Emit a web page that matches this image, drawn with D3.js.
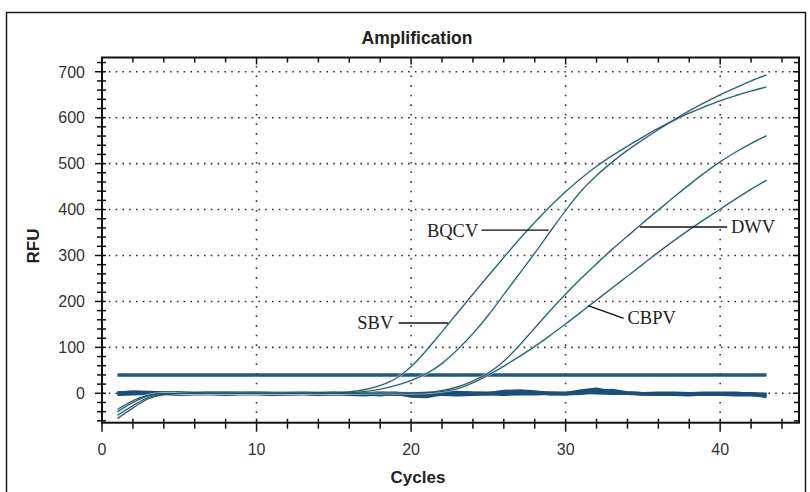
<!DOCTYPE html>
<html><head><meta charset="utf-8">
<script src="https://cdn.jsdelivr.net/npm/d3@7"></script>
<style>
html,body{margin:0;padding:0;background:#fff;}
svg{display:block;}
</style></head>
<body>
<svg id="chart" width="810" height="492"></svg>
<script>
// ---------- data ----------
const cycles = d3.range(1, 44); // cycles 1..43
const xTicks = [0, 10, 20, 30, 40];
const yTicks = [0, 100, 200, 300, 400, 500, 600, 700];
const threshold = 40;

const SBV = [-40,-20,-6,-1,0,0,1,0,0,0,1,0,0,1,1,3,8,17,32,58,94,134,175,216,256,296,335,372,407,439,468,494,517,538,558,577,594,610,624,637,648,658,667];
const BQCV = [-48,-27,-9,-2,0,1,0,0,1,0,0,0,1,0,0,1,4,9,17,28,43,65,95,130,170,215,260,305,352,398,440,474,503,529,552,574,595,615,633,650,665,680,693];
const DWV = [-55,-32,-12,-3,-1,0,0,1,0,0,0,1,0,0,0,0,1,0,1,1,2,6,14,27,44,70,104,142,180,216,250,282,313,342,371,399,427,454,480,504,525,544,561];
const CBPV = [-35,-16,-4,0,0,1,0,0,0,1,0,0,0,1,0,0,0,1,0,0,1,4,10,23,40,59,80,102,126,151,177,203,229,255,281,307,332,356,379,401,423,444,464];

const negA = [0,3,2,1,0,0,1,0,0,1,0,-1,0,0,1,0,0,1,0,-6,-7,-1,1,0,0,1,2,1,0,0,2,1,0,0,-1,0,0,-1,0,0,0,-2,-7];
const negB = [-2,-1,0,-1,-2,-1,-1,-2,-1,-1,-2,-1,-1,-2,-1,-2,-3,-1,-2,-1,-2,-2,-3,-2,-1,4,5,3,-1,-1,0,4,6,1,-1,-2,-1,-2,-2,-2,-1,-1,-2];
const negC = [1,0,0,0,1,0,0,1,0,0,-1,0,0,-1,0,0,-1,-3,0,-2,-1,3,2,0,-1,-2,-1,-1,0,-1,5,9,3,0,-1,-2,-2,-3,-1,-2,-3,-3,-4];

const seriesNames = ["SBV", "BQCV", "DWV", "CBPV"];
const seriesValues = [SBV, BQCV, DWV, CBPV];
const negValues = [negA, negB, negC];

// annotation anchors in data units
const labelText = ["BQCV", "SBV", "DWV", "CBPV"];
const labelPos = [[24.35, 355], [18.85, 153], [40.7, 362], [34.0, 164]];
const labelAnchor = ["end", "end", "start", "start"];
const leaderFrom = [[24.55, 355], [19.2, 153], [34.8, 362], [31.46, 191]];
const leaderTo = [[28.9, 355], [22.4, 153], [40.45, 362], [33.75, 163]];

// ---------- layout ----------
const svg = d3.select("#chart");
const L = 102, R = 799, T = 57.5, B = 422.7;
const x = d3.scaleLinear().domain([0, 45.1]).range([L, R]);
const y = d3.scaleLinear().domain([-64, 731]).range([B, T]);

const sans = "'Liberation Sans', Arial, sans-serif";
const serif = "'Liberation Serif', 'Times New Roman', serif";

// outer frame
svg.append("rect").attr("x", 6.5).attr("y", 12.5).attr("width", 799).attr("height", 500)
  .attr("fill", "#fff").attr("stroke", "#1a1a1a").attr("stroke-width", 1.5);

// grid
const grid = svg.append("g");
grid.selectAll("line.v").data(xTicks.filter(d => d > 0)).join("line")
  .attr("x1", d => x(d)).attr("x2", d => x(d)).attr("y1", B).attr("y2", T)
  .attr("stroke", "#333").attr("stroke-width", 1.6).attr("stroke-dasharray", "1.6,8");
grid.selectAll("line.h").data(yTicks).join("line")
  .attr("x1", L).attr("x2", R).attr("y1", d => y(d)).attr("y2", d => y(d))
  .attr("stroke", "#333").attr("stroke-width", 1.6).attr("stroke-dasharray", "1.6,5.2");

// baseline (negative wells)
const line = d3.line().x((d, i) => x(cycles[i])).y(d => y(d));
svg.append("g").selectAll("path").data(negValues).join("path")
  .attr("d", line).attr("fill", "none").attr("stroke", "#1b4e78").attr("stroke-width", 3.4);

// threshold
svg.append("line").attr("x1", x(1)).attr("x2", x(43)).attr("y1", y(threshold)).attr("y2", y(threshold))
  .attr("stroke", "#1d5a86").attr("stroke-width", 3.5);

// amplification curves
const smooth = d3.line().x((d, i) => x(cycles[i])).y(d => y(d)).curve(d3.curveMonotoneX);
const curves = svg.append("g");
curves.selectAll("path.halo").data(seriesValues).join("path")
  .attr("d", smooth).attr("fill", "none").attr("stroke", "#c6e2ef").attr("stroke-width", 2.6).attr("opacity", 0.7);
curves.selectAll("path.main").data(seriesValues).join("path")
  .attr("d", smooth).attr("fill", "none").attr("stroke", "#28505d").attr("stroke-width", 1.1);

// axes frame
const ax = svg.append("g").attr("stroke", "#111").attr("fill", "none");
ax.append("rect").attr("x", L).attr("y", T).attr("width", R - L).attr("height", B - T).attr("stroke-width", 2);

const xMinor = d3.range(0, 46, 2);
const yMinor = d3.range(-60, 731, 20);
ax.selectAll("line.bx").data(xMinor).join("line")
  .attr("x1", d => x(d)).attr("x2", d => x(d)).attr("y1", B - 4)
  .attr("y2", d => B + (xTicks.includes(d) ? 9 : 6)).attr("stroke-width", 1.5);
ax.selectAll("line.tx").data(xMinor).join("line")
  .attr("x1", d => x(d)).attr("x2", d => x(d)).attr("y1", T)
  .attr("y2", d => T + (xTicks.includes(d) ? 7 : 5)).attr("stroke-width", 1.5);
ax.selectAll("line.ly").data(yMinor).join("line")
  .attr("y1", d => y(d)).attr("y2", d => y(d))
  .attr("x1", d => L - (yTicks.includes(d) ? 7 : 5)).attr("x2", L + 4).attr("stroke-width", 1.5);
ax.selectAll("line.ry").data(yMinor).join("line")
  .attr("y1", d => y(d)).attr("y2", d => y(d))
  .attr("x1", d => R - (yTicks.includes(d) ? 6 : 5)).attr("x2", R).attr("stroke-width", 1.5);

// tick labels
svg.append("g").selectAll("text").data(xTicks).join("text")
  .attr("x", d => x(d)).attr("y", 455).attr("text-anchor", "middle")
  .attr("font-family", sans).attr("font-size", 16).attr("fill", "#333").text(d => d);
svg.append("g").selectAll("text").data(yTicks).join("text")
  .attr("x", 85).attr("y", d => y(d)).attr("dy", "0.36em").attr("text-anchor", "end")
  .attr("font-family", sans).attr("font-size", 16).attr("fill", "#333").text(d => d);

// titles
svg.append("text").attr("x", 417).attr("y", 43.5).attr("text-anchor", "middle")
  .attr("font-family", sans).attr("font-weight", "bold").attr("font-size", 17.5).attr("fill", "#222").text("Amplification");
svg.append("text").attr("x", 418).attr("y", 482.5).attr("text-anchor", "middle")
  .attr("font-family", sans).attr("font-weight", "bold").attr("font-size", 17).attr("fill", "#222").text("Cycles");
svg.append("text").attr("transform", "translate(39,246) rotate(-90)").attr("text-anchor", "middle")
  .attr("font-family", sans).attr("font-weight", "bold").attr("font-size", 17).attr("fill", "#222").text("RFU");

// annotations
const ann = svg.append("g");
ann.selectAll("line").data(leaderFrom).join("line")
  .attr("x1", d => x(d[0])).attr("y1", d => y(d[1]))
  .attr("x2", (d, i) => x(leaderTo[i][0])).attr("y2", (d, i) => y(leaderTo[i][1]))
  .attr("stroke", "#111").attr("stroke-width", 1.3);
ann.selectAll("text").data(labelText).join("text")
  .attr("x", (d, i) => x(labelPos[i][0])).attr("y", (d, i) => y(labelPos[i][1])).attr("dy", "0.35em")
  .attr("text-anchor", (d, i) => labelAnchor[i])
  .attr("font-family", serif).attr("font-size", 18.5).attr("fill", "#222").text(d => d);
</script>
</body></html>
